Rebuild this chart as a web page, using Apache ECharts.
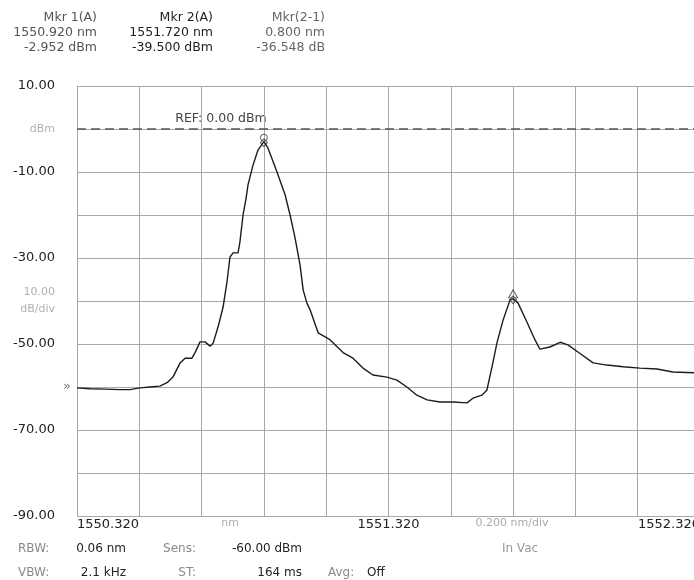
<!DOCTYPE html>
<html>
<head>
<meta charset="utf-8">
<script src="https://cdn.jsdelivr.net/npm/echarts@6/dist/echarts.min.js"></script>
<style>html,body{margin:0;padding:0;background:#fff}#c{width:694px;height:580px}</style>
</head>
<body>
<div id="c"></div>
<script>
// ---- data ----
const wavelengths = [1550.320,1550.362,1550.410,1550.458,1550.490,1550.522,1550.554,1550.586,1550.609,1550.628,
  1550.651,1550.667,1550.689,1550.699,1550.715,1550.731,1550.747,1550.757,1550.773,1550.789,
  1550.802,1550.811,1550.821,1550.837,1550.843,1550.853,1550.863,1550.869,1550.885,1550.901,
  1550.920,1550.933,1550.962,1550.988,1551.004,1551.020,1551.036,1551.046,1551.058,1551.068,
  1551.094,1551.132,1551.174,1551.206,1551.238,1551.270,1551.315,1551.347,1551.379,1551.411,
  1551.444,1551.485,1551.527,1551.572,1551.591,1551.620,1551.636,1551.655,1551.668,1551.688,
  1551.710,1551.720,1551.736,1551.765,1551.790,1551.806,1551.838,1551.871,1551.896,1551.935,
  1551.977,1552.021,1552.073,1552.127,1552.182,1552.233,1552.301,1552.320];
const powerDbm = [-60.2,-60.4,-60.5,-60.6,-60.6,-60.2,-60.0,-59.8,-59.0,-57.7,
  -54.4,-53.3,-53.3,-52.0,-49.5,-49.5,-50.5,-49.8,-46.0,-41.4,
  -35.3,-29.8,-28.8,-28.8,-26.3,-20.0,-16.0,-13.0,-8.4,-4.9,
  -2.952,-4.4,-10.0,-15.3,-20.0,-25.3,-31.6,-37.4,-40.5,-42.0,
  -47.4,-49.0,-52.0,-53.3,-55.6,-57.2,-57.7,-58.4,-60.0,-61.9,
  -63.0,-63.5,-63.5,-63.7,-62.6,-61.9,-60.7,-54.4,-49.8,-44.4,
  -39.8,-39.5,-40.5,-45.0,-49.0,-51.2,-50.7,-49.6,-50.2,-52.2,
  -54.4,-54.9,-55.3,-55.6,-55.8,-56.5,-56.7,-56.8];
const markerWl = [1550.920, 1551.720];
const markerDbm = [-2.952, -39.500];
const startWl = 1550.320;
const spanNm = 2.0;
const xDivNm = 0.2;
const refLevel = 0;
const yTickValues = [10, 0, -10, -20, -30, -40, -50, -60, -70, -80, -90];
const yTickText   = ['10.00', 'dBm', '-10.00', '', '-30.00', '10.00\ndB/div', '-50.00', '', '-70.00', '', '-90.00'];
const xLabelAt = [0, 1, 2];
const headerCols = [
  ['Mkr 1(A)', '1550.920 nm', '-2.952 dBm'],
  ['Mkr 2(A)', '1551.720 nm', '-39.500 dBm'],
  ['Mkr(2-1)', '0.800 nm', '-36.548 dB']
];

// ---- chart ----
const FONT = '"DejaVu Sans", Arial, sans-serif';
const rel = w => Math.round((w - startWl) * 1000) / 1000;
const trace = wavelengths.map((w, i) => [rel(w), powerDbm[i]]);
const mk = markerWl.map((w, i) => [rel(w), markerDbm[i]]);

const chart = echarts.init(document.getElementById('c'), null, {renderer: 'canvas'});
const gridColor = '#a8a8a8';

const graphics = [];
const colX = [97, 213, 325];
const colFill = ['#555', '#222', '#666'];
const rowY = [18, 33, 48];
headerCols.forEach((col, ci) => col.forEach((t, ri) => {
  graphics.push({type: 'text', x: colX[ci], y: rowY[ri], style: {text: t, align: 'right', verticalAlign: 'middle', font: '12.5px ' + FONT, fill: colFill[ci]}});
}));
const bottom = [
  ['RBW:', 18, 549, 'left', '#888'], ['0.06 nm', 126, 549, 'right', '#222'],
  ['Sens:', 196, 549, 'right', '#888'], ['-60.00 dBm', 302, 549, 'right', '#222'],
  ['In Vac', 520, 549, 'center', '#999'],
  ['VBW:', 18, 573, 'left', '#888'], ['2.1 kHz', 126, 573, 'right', '#222'],
  ['ST:', 196, 573, 'right', '#888'], ['164 ms', 302, 573, 'right', '#222'],
  ['Avg:', 328, 573, 'left', '#888'], ['Off', 367, 573, 'left', '#222']
];
bottom.forEach(b => graphics.push({type: 'text', x: b[1], y: b[2], style: {text: b[0], align: b[3], verticalAlign: 'middle', font: '12px ' + FONT, fill: b[4]}}));
graphics.push({type: 'text', x: 230, y: 523, style: {text: 'nm', align: 'center', verticalAlign: 'middle', font: '11px ' + FONT, fill: '#aaa'}});
graphics.push({type: 'text', x: 512, y: 523, style: {text: '0.200 nm/div', align: 'center', verticalAlign: 'middle', font: '11px ' + FONT, fill: '#aaa'}});
graphics.push({type: 'text', x: 221, y: 119, style: {text: 'REF: 0.00 dBm', align: 'center', verticalAlign: 'middle', font: '12.5px ' + FONT, fill: '#444'}});

chart.setOption({
  animation: false,
  backgroundColor: '#fff',
  grid: {left: 77, top: 86, width: 623, height: 430, outerBoundsMode: 'none', containLabel: false},
  xAxis: {
    type: 'value', min: 0, max: spanNm, interval: xDivNm,
    axisLine: {show: false}, axisTick: {show: false},
    splitLine: {show: true, lineStyle: {color: gridColor, width: 1}},
    axisLabel: {
      margin: 2, color: '#222', fontFamily: FONT, fontSize: 13,
      alignMinLabel: 'left', alignMaxLabel: 'right', showMinLabel: true, showMaxLabel: true,
      formatter: v => {
        const r = Math.round(v * 1000) / 1000;
        return xLabelAt.includes(r) ? (startWl + r).toFixed(3) : '';
      }
    }
  },
  yAxis: [{
    type: 'value', min: -90, max: 10, interval: 10,
    axisLine: {show: true, lineStyle: {color: gridColor}}, axisTick: {show: false},
    splitLine: {show: true, lineStyle: {color: gridColor, width: 1}},
    axisLabel: {
      margin: 22, color: '#222', fontFamily: FONT, fontSize: 13,
      formatter: v => {
        const i = yTickValues.indexOf(v);
        const t = i >= 0 ? yTickText[i] : '';
        if (t === 'dBm' || t.indexOf('dB/div') >= 0) return '{g|' + t.replace('\n', '}\n{g|') + '}';
        return t;
      },
      rich: {g: {color: '#b0b0b0', fontSize: 11, fontFamily: FONT, lineHeight: 17, align: 'right'}}
    }
  }, {
    type: 'value', min: -90, max: 10, interval: 10, position: 'left',
    axisLine: {show: false}, axisTick: {show: false}, splitLine: {show: false},
    axisLabel: {margin: 6, color: '#777', fontSize: 13, fontFamily: FONT, formatter: v => v === -60 ? '»' : ''}
  }],
  graphic: graphics,
  series: [{
    type: 'line', data: trace, showSymbol: false, smooth: false,
    lineStyle: {color: '#1c1c1c', width: 1.4},
    markLine: {
      silent: true, symbol: 'none', label: {show: false},
      lineStyle: {color: '#555', type: [9, 5], width: 1.5},
      data: [{yAxis: refLevel}]
    },
    z: 3
  }, {
    type: 'scatter', data: [mk[0]], symbol: 'circle', symbolSize: 7, symbolOffset: [0, -4],
    itemStyle: {color: 'rgba(255,255,255,0)', borderColor: '#333', borderWidth: 1}, z: 4
  }, {
    type: 'scatter', data: [mk[1]], symbol: 'triangle', symbolSize: [9, 8], symbolOffset: [0, -5],
    itemStyle: {color: 'rgba(255,255,255,0)', borderColor: '#333', borderWidth: 1}, z: 4
  }, {
    type: 'scatter', data: mk, symbol: 'diamond', symbolSize: [7, 8], symbolOffset: [0, 1],
    itemStyle: {color: 'rgba(255,255,255,0)', borderColor: '#333', borderWidth: 1}, z: 4
  }]
});
</script>
</body>
</html>
